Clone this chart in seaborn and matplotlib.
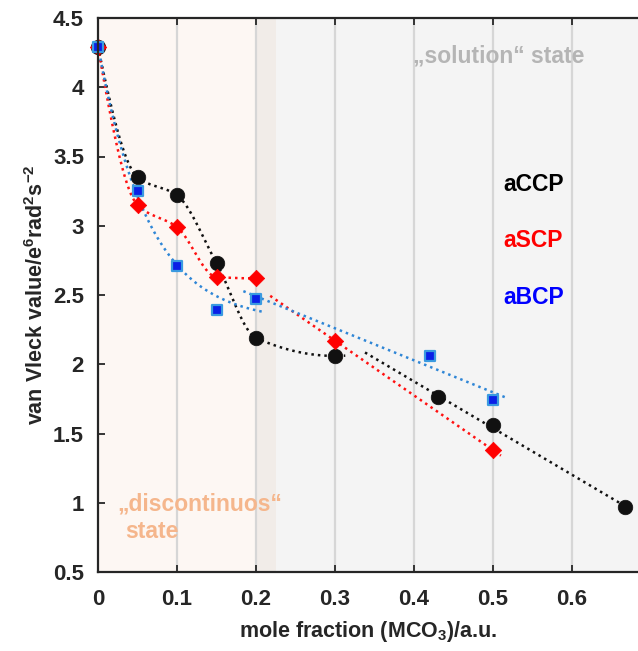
import numpy as np
import matplotlib
matplotlib.use("Agg")
import matplotlib.pyplot as plt
import seaborn as sns

# data
x_ccp = [0, 0.05, 0.1, 0.15, 0.2, 0.3, 0.43, 0.5, 0.667]
y_ccp = [4.29, 3.35, 3.22, 2.73, 2.19, 2.06, 1.76, 1.56, 0.97]

x_scp = [0, 0.05, 0.1, 0.15, 0.2, 0.3, 0.5]
y_scp = [4.29, 3.15, 2.99, 2.63, 2.62, 2.17, 1.38]

x_bcp = [0, 0.05, 0.1, 0.15, 0.2, 0.42, 0.5]
y_bcp = [4.29, 3.25, 2.71, 2.39, 2.47, 2.06, 1.74]

x_ticks = [0, 0.1, 0.2, 0.3, 0.4, 0.5, 0.6]
x_ticklabels = ["0", "0.1", "0.2", "0.3", "0.4", "0.5", "0.6"]
y_ticks = [0.5, 1, 1.5, 2, 2.5, 3, 3.5, 4, 4.5]
y_ticklabels = ["0.5", "1", "1.5", "2", "2.5", "3", "3.5", "4", "4.5"]


def pchip(x, y, xs):
    # shape preserving cubic (like matlab pchip), last piece used to extrapolate
    x = np.asarray(x, float)
    y = np.asarray(y, float)
    n = len(x)
    h = np.diff(x)
    dl = np.diff(y) / h
    d = np.zeros(n)
    for k in range(1, n - 1):
        if dl[k - 1] * dl[k] > 0:
            w1 = 2 * h[k] + h[k - 1]
            w2 = h[k] + 2 * h[k - 1]
            d[k] = (w1 + w2) / (w1 / dl[k - 1] + w2 / dl[k])

    def end_slope(h0, h1, d0, d1):
        s = ((2 * h0 + h1) * d0 - h0 * d1) / (h0 + h1)
        if np.sign(s) != np.sign(d0):
            s = 0.0
        elif np.sign(d0) != np.sign(d1) and abs(s) > abs(3 * d0):
            s = 3 * d0
        return s

    d[0] = end_slope(h[0], h[1], dl[0], dl[1])
    d[-1] = end_slope(h[-1], h[-2], dl[-1], dl[-2])
    k = np.clip(np.searchsorted(x, xs) - 1, 0, n - 2)
    t = (xs - x[k]) / h[k]
    h00 = 2 * t ** 3 - 3 * t ** 2 + 1
    h10 = t ** 3 - 2 * t ** 2 + t
    h01 = -2 * t ** 3 + 3 * t ** 2
    h11 = t ** 3 - t ** 2
    return h00 * y[k] + h10 * h[k] * d[k] + h01 * y[k + 1] + h11 * h[k] * d[k + 1]


def exp_fit(x, y, xs):
    # y = a + b * r**(x/0.05), r from a small grid search
    x = np.asarray(x, float)
    y = np.asarray(y, float)
    best = None
    for r in np.linspace(0.2, 0.9, 141):
        u = r ** (x / 0.05)
        p = np.polyfit(u, y, 1)
        err = np.sum((np.polyval(p, u) - y) ** 2)
        if best is None or err < best[0]:
            best = (err, r, p)
    _, r, p = best
    return np.polyval(p, r ** (xs / 0.05))


def lin_fit(x, y, xs):
    return np.polyval(np.polyfit(x, y, 1), xs)


sns.set_theme(style="ticks")
plt.rcParams["font.family"] = ["Liberation Sans", "DejaVu Sans"]
plt.rcParams["font.weight"] = "bold"
plt.rcParams["mathtext.fontset"] = "custom"
plt.rcParams["mathtext.rm"] = "Liberation Sans:bold"
plt.rcParams["mathtext.bf"] = "Liberation Sans:bold"
plt.rcParams["mathtext.it"] = "Liberation Sans:bold"

fig = plt.figure(figsize=(6.38, 6.51), dpi=100)
ax = fig.add_axes([98 / 638, 1 - 572 / 651, 1 - 98 / 638, (572 - 18) / 651])
xmax = (638 - 98) / 790
ax.set_xlim(0, xmax)
ax.set_ylim(0.5, 4.5)

# background regions
ax.axvspan(0, 0.225, color="#fdf7f3", lw=0, zorder=0)
ax.axvspan(0.2, xmax, color="#f4f4f4", lw=0, zorder=0)
ax.axvspan(0.2, 0.225, color="#f1ece8", lw=0, zorder=0)
for xt in x_ticks[1:]:
    ax.axvline(xt, color="#d6d6d6", lw=1.6, zorder=0.5)

xc = np.array(x_ccp)
yc = np.array(y_ccp)
xsr = np.array(x_scp)
ysr = np.array(y_scp)
xb = np.array(x_bcp)
yb = np.array(y_bcp)

dots = (0, (1, 1.6))

# black curves
xs = np.linspace(0, 0.313, 200)
sns.lineplot(x=xs, y=pchip(xc[xc <= 0.3], yc[xc <= 0.3], xs), ax=ax,
             color="#111111", lw=1.8, linestyle=dots, estimator=None, sort=False)
xs = np.linspace(0.338, 0.676, 50)
sns.lineplot(x=xs, y=lin_fit(xc[xc > 0.3], yc[xc > 0.3], xs), ax=ax,
             color="#111111", lw=1.8, linestyle=dots, estimator=None, sort=False)

# red curves
xs = np.linspace(0, 0.2, 150)
sns.lineplot(x=xs, y=pchip(xsr[xsr <= 0.2], ysr[xsr <= 0.2], xs), ax=ax,
             color="#ff1010", lw=1.8, linestyle=dots, estimator=None, sort=False)
xs = np.linspace(0.218, 0.51, 50)
sns.lineplot(x=xs, y=lin_fit(xsr[xsr > 0.2], ysr[xsr > 0.2], xs), ax=ax,
             color="#ff1010", lw=1.8, linestyle=dots, estimator=None, sort=False)

# blue curves
xs = np.linspace(0, 0.208, 150)
sns.lineplot(x=xs, y=exp_fit(xb[xb <= 0.2], yb[xb <= 0.2], xs), ax=ax,
             color="#2f86d6", lw=1.8, linestyle=dots, estimator=None, sort=False)
xs = np.linspace(0.184, 0.515, 50)
sns.lineplot(x=xs, y=lin_fit(xb[xb >= 0.2], yb[xb >= 0.2], xs), ax=ax,
             color="#2f86d6", lw=1.8, linestyle=dots, estimator=None, sort=False)

# markers
sns.scatterplot(x=x_ccp, y=y_ccp, ax=ax, marker="o", s=110, color="#111111",
                edgecolor="#111111", linewidth=0.5, zorder=5, clip_on=False)
sns.scatterplot(x=x_scp, y=y_scp, ax=ax, marker="D", s=70, color="#ff0000",
                edgecolor="#ff0000", linewidth=0.5, zorder=6, clip_on=False)
sns.scatterplot(x=x_bcp, y=y_bcp, ax=ax, marker="s", s=55, color="#0a1fe6",
                edgecolor="#3a9ae0", linewidth=1.6, zorder=7, clip_on=False)

# texts
ax.text(0.399, 4.225, "\u201esolution\u201c state", color="#b5b5b5", fontsize=16.5,
        fontweight="bold", ha="left", va="center")
ax.text(0.025, 0.99, "\u201ediscontinuos\u201c", color="#f5b68c", fontsize=16.5,
        fontweight="bold", ha="left", va="center")
ax.text(0.034, 0.79, "state", color="#f5b68c", fontsize=16.5,
        fontweight="bold", ha="left", va="center")
ax.text(0.513, 3.30, "aCCP", color="#000000", fontsize=16.5, fontweight="bold", va="center")
ax.text(0.513, 2.89, "aSCP", color="#ff0000", fontsize=16.5, fontweight="bold", va="center")
ax.text(0.513, 2.48, "aBCP", color="#0000ff", fontsize=16.5, fontweight="bold", va="center")

ax.set_xticks(x_ticks)
ax.set_xticklabels(x_ticklabels)
ax.set_yticks(y_ticks)
ax.set_yticklabels(y_ticklabels)
ax.tick_params(axis="both", direction="in", length=5, width=1.3, color="#262626",
               labelsize=16, labelcolor="#262626")
ax.tick_params(axis="x", top=True, pad=12)
ax.tick_params(axis="y", pad=10)
for lab in ax.get_xticklabels() + ax.get_yticklabels():
    lab.set_fontweight("bold")

for side in ["left", "bottom", "top"]:
    ax.spines[side].set_color("#262626")
    ax.spines[side].set_linewidth(1.6)
    ax.spines[side].set_zorder(10)
ax.spines["right"].set_visible(False)

ax.set_xlabel(r"mole fraction (MCO$_{3}$)/a.u.", fontsize=15.5, fontweight="bold",
              color="#262626", labelpad=7)
ax.set_ylabel(r"van Vleck value/e$^{6}$rad$^{2}$s$^{-2}$", fontsize=15.5,
              fontweight="bold", color="#262626", labelpad=4)

fig.savefig("out.png", dpi=100)
